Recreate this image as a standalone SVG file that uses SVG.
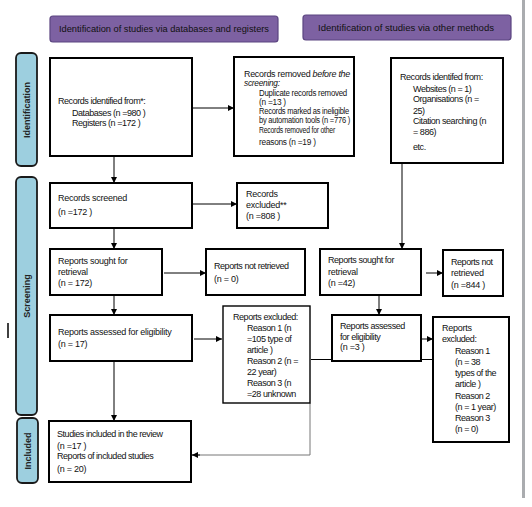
<svg xmlns="http://www.w3.org/2000/svg" width="532" height="507" viewBox="0 0 532 507">
<defs>
<marker id="ah" viewBox="0 0 10 10" refX="10" refY="5" markerWidth="6" markerHeight="6" orient="auto" markerUnits="userSpaceOnUse"><path d="M0,0 L10,5 L0,10 z" fill="#000"/></marker>
<style>
.hdr{fill:#7d61a2;stroke:#5b4580;stroke-width:1.2}
.hdrt{font-family:"Liberation Sans",Arial,sans-serif;font-size:9.5px;fill:#111}
.side{fill:#9dcfdf;stroke:#1a1a1a;stroke-width:1.8}
.sidet{font-family:"Liberation Sans",Arial,sans-serif;font-size:9px;font-weight:bold;fill:#222}
.box{fill:#fff;stroke:#000;stroke-width:2}
.box2{fill:#fff;stroke:#000;stroke-width:1.4}
.t{font-family:"Liberation Sans",Arial,sans-serif;font-size:9px;letter-spacing:-0.25px;fill:#111}
.tt{letter-spacing:-0.45px}
.s{font-size:8.3px}
.c{fill:none;stroke:#000;stroke-width:1}
.g{fill:none;stroke:#777;stroke-width:1}
</style>
</defs>
<rect x="0" y="0" width="532" height="507" fill="#fff"/>
<rect x="522" y="0" width="3" height="498" fill="#aaacaf"/>
<line x1="8" y1="323" x2="8" y2="338" stroke="#000" stroke-width="1.5"/>

<g id="hdr-left"><rect class="hdr" x="50" y="16" width="228" height="26" rx="3"/><text class="hdrt" x="59" y="32" textLength="210" lengthAdjust="spacingAndGlyphs">Identification of studies via databases and registers</text></g>
<g id="hdr-right"><rect class="hdr" x="303" y="15" width="208" height="25" rx="3"/><text class="hdrt" x="318" y="31" textLength="176" lengthAdjust="spacingAndGlyphs">Identification of studies via other methods</text></g>

<g id="lbl-identification"><rect class="side" x="16" y="53" width="21" height="113" rx="5"/><text class="sidet" transform="translate(30,110) rotate(-90)" text-anchor="middle">Identification</text></g>
<g id="lbl-screening"><rect class="side" x="16" y="177" width="21" height="238" rx="5"/><text class="sidet" transform="translate(30,296) rotate(-90)" text-anchor="middle">Screening</text></g>
<g id="lbl-included"><rect class="side" x="17" y="418" width="21" height="65" rx="5"/><text class="sidet" transform="translate(31,451) rotate(-90)" text-anchor="middle">Included</text></g>

<g id="connectors">
<line class="c" x1="192" y1="108" x2="234" y2="108" marker-end="url(#ah)"/>
<line class="c" x1="114" y1="156" x2="114" y2="183" marker-end="url(#ah)"/>
<line class="c" x1="192" y1="204" x2="237" y2="204" marker-end="url(#ah)"/>
<line class="c" x1="114" y1="228" x2="114" y2="249" marker-end="url(#ah)"/>
<line class="c" x1="164" y1="273" x2="206" y2="273" marker-end="url(#ah)"/>
<line class="c" x1="114" y1="295" x2="114" y2="315" marker-end="url(#ah)"/>
<line class="c" x1="194" y1="339" x2="222" y2="339" marker-end="url(#ah)"/>
<line class="c" x1="114" y1="361" x2="114" y2="421" marker-end="url(#ah)"/>
<polyline class="g" points="310,403 310,455 192,455"/>
<line class="c" x1="200" y1="455" x2="192" y2="455" marker-end="url(#ah)"/>
<line class="c" x1="311" y1="359.5" x2="433" y2="359.5"/>
<line class="c" x1="402" y1="163" x2="402" y2="249" marker-end="url(#ah)"/>
<line class="c" x1="426" y1="273" x2="443" y2="273" marker-end="url(#ah)"/>
<line class="c" x1="379" y1="295" x2="379" y2="315" marker-end="url(#ah)"/>
<line class="c" x1="415" y1="339" x2="433" y2="339" marker-end="url(#ah)"/>
</g>

<g id="records-identified"><rect class="box" x="50" y="58" width="142" height="98"/>
<text class="t tt" x="58" y="104">Records identified from*:</text>
<text class="t tt" x="72" y="116">Databases (n =980 )</text>
<text class="t tt" x="72" y="126">Registers (n =172 )</text></g>

<g id="records-removed"><rect class="box" x="234" y="57" width="120" height="99"/>
<text class="t s" x="244" y="77" textLength="106" lengthAdjust="spacingAndGlyphs">Records removed <tspan font-style="italic">before the</tspan></text>
<text class="t s" x="244" y="86" font-style="italic">screening:</text>
<text class="t s" x="259" y="96" textLength="88" lengthAdjust="spacingAndGlyphs">Duplicate records removed</text>
<text class="t s" x="259" y="105">(n =13 )</text>
<text class="t s" x="259" y="114" textLength="90" lengthAdjust="spacingAndGlyphs">Records marked as ineligible</text>
<text class="t s" x="259" y="123" textLength="91" lengthAdjust="spacingAndGlyphs">by automation tools (n =776 )</text>
<text class="t s" x="259" y="133" textLength="76" lengthAdjust="spacingAndGlyphs">Records removed for other</text>
<text class="t s" x="259" y="145">reasons (n =19 )</text></g>

<g id="records-other"><rect class="box" x="391" y="58" width="112" height="105"/>
<text class="t tt" x="400" y="80">Records identifed from:</text>
<text class="t tt" x="413" y="92">Websites (n = 1)</text>
<text class="t tt" x="413" y="102">Organisations (n =</text>
<text class="t tt" x="413" y="114">25)</text>
<text class="t tt" x="413" y="124">Citation searching (n</text>
<text class="t tt" x="413" y="135">= 886)</text>
<text class="t tt" x="413" y="150">etc.</text></g>

<g id="records-screened"><rect class="box" x="50" y="183" width="142" height="45"/>
<text class="t" x="58" y="201">Records screened</text>
<text class="t" x="58" y="215">(n =172 )</text></g>

<g id="records-excluded"><rect class="box" x="237" y="183" width="91" height="45"/>
<text class="t" x="246" y="197" font-size="10.5">Records</text>
<text class="t" x="246" y="208">excluded**</text>
<text class="t" x="246" y="219">(n =808 )</text></g>

<g id="sought-left"><rect class="box" x="50" y="249" width="112" height="46"/>
<text class="t" x="58" y="264">Reports sought for</text>
<text class="t" x="58" y="275">retrieval</text>
<text class="t" x="58" y="286">(n = 172)</text></g>

<g id="notretrieved-left"><rect class="box" x="206" y="249" width="99" height="46"/>
<text class="t tt" x="214" y="269">Reports not retrieved</text>
<text class="t" x="214" y="282">(n = 0)</text></g>

<g id="sought-right"><rect class="box" x="320" y="249" width="101" height="46"/>
<text class="t tt" x="328" y="263">Reports sought for</text>
<text class="t" x="328" y="275">retrieval</text>
<text class="t" x="328" y="286">(n =42)</text></g>

<g id="notretrieved-right"><rect class="box" x="443" y="250" width="60" height="46"/>
<text class="t tt" x="451" y="265" font-size="9.5">Reports not</text>
<text class="t" x="451" y="276">retrieved</text>
<text class="t" x="451" y="288">(n =844 )</text></g>

<g id="assessed-left"><rect class="box" x="50" y="315" width="142" height="46"/>
<text class="t" x="58" y="335">Reports assessed for eligibility</text>
<text class="t" x="58" y="347">(n = 17)</text></g>

<g id="excluded-left"><rect class="box2" x="223" y="306" width="87" height="97"/>
<text class="t tt" x="233" y="320">Reports excluded:</text>
<text class="t tt" x="247" y="331">Reason 1 (n</text>
<text class="t tt" x="247" y="342">=105 type of</text>
<text class="t tt" x="247" y="353">article  )</text>
<text class="t tt" x="247" y="364">Reason 2 (n =</text>
<text class="t tt" x="247" y="375">22 year)</text>
<text class="t tt" x="247" y="386">Reason 3 (n</text>
<text class="t tt" x="247" y="397">=28 unknown</text></g>

<g id="assessed-right"><rect class="box" x="332" y="315" width="89" height="46"/>
<text class="t tt" x="340" y="329">Reports assessed</text>
<text class="t tt" x="340" y="340">for eligibility</text>
<text class="t" x="340" y="350">(n =3 )</text></g>

<g id="excluded-right"><rect class="box" x="433" y="317" width="76" height="125"/>
<text class="t" x="442" y="331" font-size="10">Reports</text>
<text class="t tt" x="442" y="342">excluded:</text>
<text class="t tt" x="455" y="354">Reason 1</text>
<text class="t tt" x="455" y="365">(n = 38</text>
<text class="t tt" x="455" y="376">types of the</text>
<text class="t tt" x="455" y="387">article  )</text>
<text class="t tt" x="455" y="399">Reason 2</text>
<text class="t tt" x="455" y="410">(n = 1 year)</text>
<text class="t tt" x="455" y="421">Reason 3</text>
<text class="t tt" x="455" y="432">(n = 0)</text></g>

<g id="included"><rect class="box" x="49" y="421" width="142" height="61"/>
<text class="t tt" x="57" y="437">Studies included in the review</text>
<text class="t" x="57" y="449">(n =17 )</text>
<text class="t tt" x="57" y="459">Reports of included studies</text>
<text class="t" x="57" y="472">(n = 20)</text></g>
</svg>
